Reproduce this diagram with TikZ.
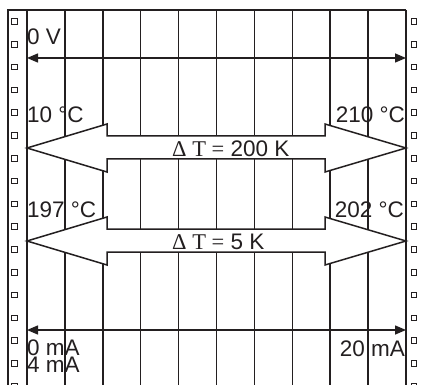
\documentclass[tikz,border=0pt]{standalone}
\usepackage{fontspec}
\setmainfont{Liberation Sans}
\newfontfamily\serifsym{Liberation Serif}
\usetikzlibrary{arrows.meta}
\definecolor{ink}{HTML}{231F20}
\begin{document}
\begin{tikzpicture}[x=1pt,y=-1pt,
  gridline/.style={line width=1.5pt, draw=ink},
  lbl/.style={inner sep=0pt, text=ink, font=\fontsize{22.5}{25}\selectfont},
  hole/.style={draw=ink, line width=1pt, minimum size=5.5pt, inner sep=0pt, fill=white},
  thinarrow/.style={line width=1.5pt, draw=ink, {Triangle[length=11pt,width=9pt]}-{Triangle[length=11pt,width=9pt]}},
  bigarrow/.style={draw=ink, fill=white, line width=1.5pt, line join=miter}]
\useasboundingbox (0,0) rectangle (423,385);
\clip (0,0) rectangle (423,385);
% frame and grid
\draw[gridline] (8,390) -- (8,10) -- (406,10);
\foreach \k in {0,...,10} {
  \draw[gridline] ({27+37.9*\k},10) -- ({27+37.9*\k},390);
}
% perforation holes
\foreach \k in {0,...,16} {
  \node[hole] (hl\k) at (14.5,{21.5+22.8*\k}) {};
  \node[hole] (hr\k) at (414,{21.5+22.8*\k}) {};
}
% thin arrows
\coordinate (vL) at (27,58);
\coordinate (vR) at (406,58);
\coordinate (mL) at (27,330);
\coordinate (mR) at (406,330);
\draw[thinarrow] (vL) -- (vR);
\draw[thinarrow] (mL) -- (mR);
% hollow double arrows
\draw[bigarrow] (27,148) -- (107,124) -- (107,136) -- (325,136) -- (325,124) -- (406,148)
  -- (325,172) -- (325,159) -- (107,159) -- (107,172) -- cycle;
\draw[bigarrow] (27,241) -- (107,217) -- (107,229) -- (325,229) -- (325,217) -- (406,241)
  -- (325,265) -- (325,252) -- (107,252) -- (107,265) -- cycle;
% labels
\node[lbl, anchor=base west] (t0v) at (27,45) {0 V};
\node[lbl, anchor=base west] (t10) at (27,123) {10 °C};
\node[lbl, anchor=base east] (t210) at (405,123) {210 °C};
\node[lbl, anchor=base west] (t197) at (27,217) {197 °C};
\node[lbl, anchor=base east] (t202) at (404,217) {202 °C};
\node[lbl, anchor=base west] (t0ma) at (27,355) {0 mA};
\node[lbl, anchor=base west] (t4ma) at (27,372) {4 mA};
\node[lbl, anchor=base east] (t20ma) at (405,356) {20 mA};
\node[lbl, anchor=base west] (dt1) at (172,157) {{\serifsym Δ T =} 200 K};
\node[lbl, anchor=base west] (dt2) at (172,249) {{\serifsym Δ T =} 5 K};
\end{tikzpicture}
\end{document}
